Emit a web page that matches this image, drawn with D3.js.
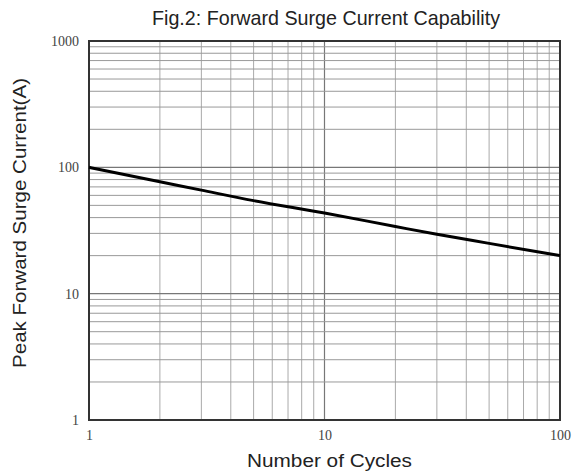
<!DOCTYPE html>
<html><head><meta charset="utf-8">
<script src="https://cdn.jsdelivr.net/npm/d3@7"></script>
<style>body{margin:0;background:#fff}</style>
</head><body>
<svg id="c" width="575" height="475"></svg>
<script>
const cycles = [1, 2, 3, 5, 10, 20, 30, 50, 100];
const current = [100, 77, 66, 54.5, 43.5, 34, 29.5, 25, 20];
const xTicks = [1, 10, 100];
const yTicks = [1, 10, 100, 1000];
const title = "Fig.2: Forward Surge Current Capability";
const xTitle = "Number of Cycles";
const yTitle = "Peak Forward Surge Current(A)";

const m = {l: 89, r: 15, t: 41, b: 55};
const W = 575, H = 475;
const svg = d3.select("#c");
const x = d3.scaleLog().domain([1, 100]).range([m.l, W - m.r]);
const y = d3.scaleLog().domain([1, 1000]).range([H - m.b, m.t]);

const gx = [], gy = [];
for (let d = 1; d < 100; d *= 10) for (let k = 2; k <= 9; k++) gx.push(d * k);
for (let d = 1; d < 1000; d *= 10) for (let k = 2; k <= 9; k++) gy.push(d * k);

const g = svg.append("g");
g.selectAll(".vx").data(gx).join("line")
  .attr("x1", d => x(d)).attr("x2", d => x(d)).attr("y1", m.t).attr("y2", H - m.b)
  .attr("stroke", "#aaa").attr("stroke-width", 1);
g.selectAll(".vx2").data([10]).join("line")
  .attr("x1", d => x(d)).attr("x2", d => x(d)).attr("y1", m.t).attr("y2", H - m.b)
  .attr("stroke", "#777").attr("stroke-width", 1.2);
g.selectAll(".hy").data(gy).join("line")
  .attr("y1", d => y(d)).attr("y2", d => y(d)).attr("x1", m.l).attr("x2", W - m.r)
  .attr("stroke", "#999").attr("stroke-width", 1);
g.selectAll(".hy2").data([10, 100]).join("line")
  .attr("y1", d => y(d)).attr("y2", d => y(d)).attr("x1", m.l).attr("x2", W - m.r)
  .attr("stroke", "#777").attr("stroke-width", 1.2);

svg.append("rect").attr("x", m.l).attr("y", m.t)
  .attr("width", W - m.r - m.l).attr("height", H - m.b - m.t)
  .attr("fill", "none").attr("stroke", "#333").attr("stroke-width", 2);

const line = d3.line().x((d, i) => x(cycles[i])).y(d => y(d)).curve(d3.curveMonotoneX);
svg.append("path").datum(current).attr("d", line)
  .attr("fill", "none").attr("stroke", "#000").attr("stroke-width", 3);

const xa = d3.axisBottom(x).tickValues(xTicks).tickFormat(d3.format("d")).tickSize(0).tickPadding(10);
svg.append("g").attr("transform", `translate(0,${H - m.b})`).call(xa)
  .call(s => s.select(".domain").remove())
  .selectAll("text").attr("font-family", "Liberation Serif, serif").attr("font-size", 14).attr("fill", "#444");
const ya = d3.axisLeft(y).tickValues(yTicks).tickFormat(d3.format("d")).tickSize(0).tickPadding(10);
svg.append("g").attr("transform", `translate(${m.l},0)`).call(ya)
  .call(s => s.select(".domain").remove())
  .selectAll("text").attr("font-family", "Liberation Serif, serif").attr("font-size", 14).attr("fill", "#444");

const sans = "Liberation Sans, Arial, sans-serif";
svg.append("text").attr("x", 326).attr("y", 25).attr("text-anchor", "middle")
  .attr("font-family", sans).attr("font-size", 21).attr("fill", "#222")
  .attr("textLength", 348).attr("lengthAdjust", "spacingAndGlyphs").text(title);
svg.append("text").attr("x", 329.5).attr("y", 467).attr("text-anchor", "middle")
  .attr("font-family", sans).attr("font-size", 18).attr("fill", "#222")
  .attr("textLength", 165).attr("lengthAdjust", "spacingAndGlyphs").text(xTitle);
svg.append("text").attr("transform", "translate(26,223) rotate(-90)").attr("text-anchor", "middle")
  .attr("font-family", sans).attr("font-size", 19).attr("fill", "#222")
  .attr("textLength", 290).attr("lengthAdjust", "spacingAndGlyphs").text(yTitle);
</script>
</body></html>
